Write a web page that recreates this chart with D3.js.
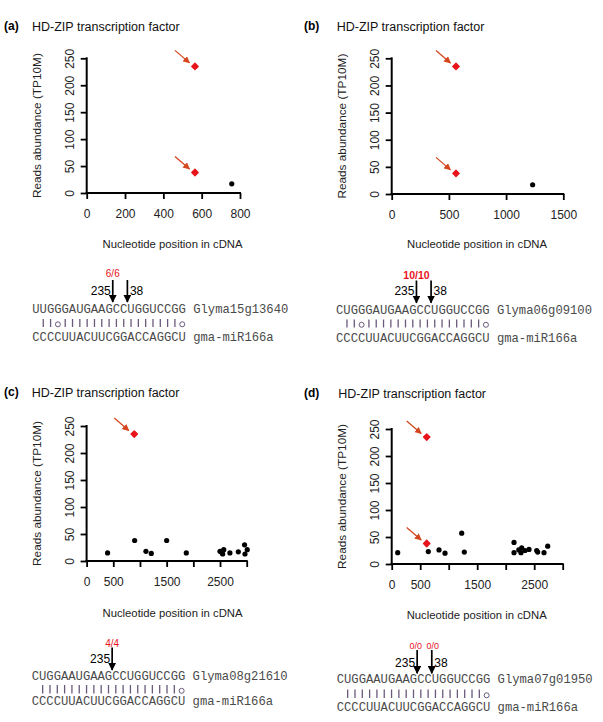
<!DOCTYPE html>
<html><head><meta charset="utf-8">
<script src="https://cdn.jsdelivr.net/npm/d3@7"></script>
<style>body{margin:0;background:#fff}svg{display:block}</style>
</head><body><svg id="chart" width="603" height="722"></svg>
<script>
// ---------------- DATA ----------------
const panelLabels = ["(a)", "(b)", "(c)", "(d)"];
const panelTitles = ["HD-ZIP transcription factor", "HD-ZIP transcription factor", "HD-ZIP transcription factor", "HD-ZIP transcription factor"];
const yLabel = "Reads abundance (TP10M)";
const xLabel = "Nucleotide position in cDNA";
const yMax = 250;
const yTicks = [0, 50, 100, 150, 200, 250];
const xMaxes = [800, 1500, 3000, 3000];

const xTicksA = [0, 200, 400, 600, 800];
const xTickLabelsA = [0, 200, 400, 600, 800];
const xTicksB = [0, 500, 1000, 1500];
const xTickLabelsB = [0, 500, 1000, 1500];
const xTicksC = [0, 500, 1000, 1500, 2000, 2500, 3000];
const xTickLabelsC = [0, 500, 1500, 2500];
const xTicksD = [0, 500, 1000, 1500, 2000, 2500, 3000];
const xTickLabelsD = [0, 500, 1500, 2500];

// target (red, arrowed) tags
const targetPosA = [565, 565];   const targetAbundA = [235, 38];
const targetPosB = [562, 562];   const targetAbundB = [235, 38];
const targetPosC = [893];        const targetAbundC = [235];
const targetPosD = [614, 614];   const targetAbundD = [235, 38];

// other tags (black)
const otherPosA = [757];   const otherAbundA = [17];
const otherPosB = [1232];  const otherAbundB = [17];
const otherPosC = [393, 900, 1112, 1212, 1500, 1868, 2500, 2540, 2570, 2550, 2685, 2843, 2960, 2968, 3010];
const otherAbundC = [15, 38, 18, 14, 38, 15, 18, 15, 21, 13, 15, 17, 30, 13, 21];
const otherPosD = [105, 642, 830, 935, 1228, 1274, 2146, 2146, 2230, 2281, 2268, 2339, 2409, 2544, 2561, 2672, 2737];
const otherAbundD = [21, 23, 26, 20, 57, 22, 40, 21, 26, 30, 21, 25, 27, 25, 22, 21, 33];

// alignments
const targetSeqs = ["UUGGGAUGAAGCCUGGUCCGG", "CUGGGAUGAAGCCUGGUCCGG", "CUGGAAUGAAGCCUGGUCCGG", "CUGGAAUGAAGCCUGGUCCGG"];
const geneIds = ["Glyma15g13640", "Glyma06g09100", "Glyma08g21610", "Glyma07g01950"];
const pairings = [" ||o||||||||||||||||o", " ||o||||||||||||||||o", " |||||||||||||||||||o", " |||||||||||||||||||o"];
const mirnaSeq = "CCCCUUACUUCGGACCAGGCU";
const mirnaName = "gma-miR166a";
// cleavage sites: boundary index in target sequence, abundance label, degradome ratio
const cleaveSites = [[11, 13], [11, 13], [11], [11, 13]];
const cleaveLabels = [["235", "38"], ["235", "38"], ["235"], ["235", "38"]];
const cleaveRatios = [["6/6", ""], ["10/10", ""], ["4/4"], ["0/0", "0/0"]];

// ---------------- LAYOUT ----------------
const layouts = [
  {x0:86.7, x1:240, y0:193, y1:58.3, labelX:4, titleX:32, titleY:31, xtX:172.5, xtY:248,
   seqX:32.3, seqY:313, pairTop:319, pairBot:327, mirY:341, aTop:280, aTip:302, numY:295, ratioY:277, ratioBold:false, ratioSize:10},
  {x0:391.7, x1:563.3, y0:194, y1:58.3, labelX:304, titleX:336.7, titleY:31, xtX:477, xtY:248,
   seqX:336, seqY:314, pairTop:319.5, pairBot:327.5, mirY:341.5, aTop:280.5, aTip:302.7, numY:295, ratioY:279, ratioBold:true, ratioSize:10.5},
  {x0:86.6, x1:246.7, y0:561, y1:426, labelX:4, titleX:31.7, titleY:397, xtX:172.5, xtY:617,
   seqX:31.7, seqY:680, pairTop:685, pairBot:693.5, mirY:705, aTop:647.5, aTip:670, numY:662.5, ratioY:646.5, ratioBold:false, ratioSize:10},
  {x0:391.7, x1:562.7, y0:564, y1:429, labelX:304, titleX:338.3, titleY:398, xtX:476.7, xtY:618.5,
   seqX:336.7, seqY:683.3, pairTop:689.5, pairBot:698, mirY:711.3, aTop:650, aTip:673.3, numY:666.5, ratioY:649, ratioBold:false, ratioSize:9}
];

const panels = [
  {xTicks:xTicksA, xTickLabels:xTickLabelsA, tPos:targetPosA, tAb:targetAbundA, oPos:otherPosA, oAb:otherAbundA},
  {xTicks:xTicksB, xTickLabels:xTickLabelsB, tPos:targetPosB, tAb:targetAbundB, oPos:otherPosB, oAb:otherAbundB},
  {xTicks:xTicksC, xTickLabels:xTickLabelsC, tPos:targetPosC, tAb:targetAbundC, oPos:otherPosC, oAb:otherAbundC},
  {xTicks:xTicksD, xTickLabels:xTickLabelsD, tPos:targetPosD, tAb:targetAbundD, oPos:otherPosD, oAb:otherAbundD}
];

const SANS = "'Liberation Sans', Arial, sans-serif";
const MONO = "'Liberation Mono', 'Courier New', monospace";
const RED = "#e8141c", ORANGE = "#d4471e", SEQCOL = "#4a4a4a", PAIRCOL = "#6a5a7c";

const svg = d3.select("#chart");
svg.append("rect").attr("width", 603).attr("height", 722).attr("fill", "#fff");

const defs = svg.append("defs");
defs.append("marker").attr("id", "ahOrange").attr("viewBox", "0 0 10 10")
  .attr("refX", 9).attr("refY", 5).attr("markerWidth", 7).attr("markerHeight", 7)
  .attr("markerUnits", "userSpaceOnUse").attr("orient", "auto")
  .append("path").attr("d", "M0,0L10,5L0,10Z").attr("fill", ORANGE);
defs.append("marker").attr("id", "ahBlack").attr("viewBox", "0 0 10 10")
  .attr("refX", 9).attr("refY", 5).attr("markerWidth", 8).attr("markerHeight", 8)
  .attr("markerUnits", "userSpaceOnUse").attr("orient", "auto")
  .append("path").attr("d", "M0,0L10,5L0,10Z").attr("fill", "#000");

// measure monospace char width
const probe = svg.append("text").attr("font-family", MONO).attr("font-size", 12.2).text(mirnaSeq);
const charW = probe.node().getComputedTextLength() / mirnaSeq.length;
probe.remove();

panels.forEach((p, i) => {
  const L = layouts[i];
  const g = svg.append("g");
  const x = d3.scaleLinear().domain([0, xMaxes[i]]).range([L.x0, L.x1]);
  const y = d3.scaleLinear().domain([0, yMax]).range([L.y0, L.y1]);

  g.append("text").attr("x", L.labelX).attr("y", L.titleY - 1).attr("font-family", SANS)
    .attr("font-weight", "bold").attr("font-size", 12).text(panelLabels[i]);
  g.append("text").attr("x", L.titleX).attr("y", L.titleY).attr("font-family", SANS)
    .attr("font-size", 12.5).attr("fill", "#111").text(panelTitles[i]);

  // x axis
  const xa = g.append("g").attr("transform", `translate(0,${L.y0})`)
    .call(d3.axisBottom(x).tickValues(p.xTicks).tickSize(6).tickSizeOuter(0)
      .tickFormat(d => p.xTickLabels.includes(d) ? d : ""));
  xa.select(".domain").attr("stroke-width", 2).attr("d", `M${L.x0 - 1},0H${L.x1 + 1}`);
  xa.selectAll(".tick line").attr("stroke-width", 1.8);
  xa.selectAll(".tick text").attr("y", 25).attr("dy", 0).attr("font-family", SANS)
    .attr("font-size", 12).attr("fill", "#222");

  // y axis
  const ya = g.append("g").attr("transform", `translate(${L.x0},0)`)
    .call(d3.axisLeft(y).tickValues(yTicks).tickSize(6).tickSizeOuter(0));
  ya.select(".domain").attr("stroke-width", 2).attr("d", `M0,${L.y0 + 1}V${L.y1 - 1}`);
  ya.selectAll(".tick line").attr("stroke-width", 1.8);
  ya.selectAll(".tick text").attr("transform", "rotate(-90)").attr("x", 0).attr("y", -12.5)
    .attr("dy", 0).attr("text-anchor", "middle").attr("font-family", SANS)
    .attr("font-size", 12).attr("fill", "#222");

  g.append("text").attr("transform", `translate(${L.x0 - 46},${(L.y0 + L.y1) / 2}) rotate(-90)`)
    .attr("text-anchor", "middle").attr("font-family", SANS).attr("font-size", 11.8)
    .attr("fill", "#222").text(yLabel);
  g.append("text").attr("x", L.xtX).attr("y", L.xtY).attr("text-anchor", "middle")
    .attr("font-family", SANS).attr("font-size", 11.3).attr("fill", "#222").text(xLabel);

  // black points
  g.selectAll("circle.o").data(p.oPos.map((v, k) => [v, p.oAb[k]])).join("circle")
    .attr("class", "o").attr("cx", d => x(d[0])).attr("cy", d => y(d[1])).attr("r", 2.6).attr("fill", "#000");
  // red target points + arrows
  const tdat = p.tPos.map((v, k) => [v, p.tAb[k]]);
  g.selectAll("line.arr").data(tdat).join("line").attr("class", "arr")
    .attr("x1", d => x(d[0]) - 20).attr("y1", d => y(d[1]) - 16)
    .attr("x2", d => x(d[0]) - 5.5).attr("y2", d => y(d[1]) - 3.5)
    .attr("stroke", ORANGE).attr("stroke-width", 1.3).attr("marker-end", "url(#ahOrange)");
  g.selectAll("path.t").data(tdat).join("path").attr("class", "t")
    .attr("d", d3.symbol(d3.symbolSquare, 20))
    .attr("transform", d => `translate(${x(d[0])},${y(d[1])}) rotate(45)`)
    .attr("fill", RED).attr("stroke", RED).attr("stroke-width", 1.4).attr("stroke-linejoin", "round");

  // alignment
  const cx = d3.scaleLinear().domain([0, 1]).range([L.seqX, L.seqX + charW]);
  g.append("text").attr("x", L.seqX).attr("y", L.seqY).attr("font-family", MONO).attr("font-size", 12.2)
    .attr("fill", SEQCOL).style("white-space", "pre").text(targetSeqs[i] + " " + geneIds[i]);
  g.append("text").attr("x", L.seqX).attr("y", L.mirY).attr("font-family", MONO).attr("font-size", 12.2)
    .attr("fill", SEQCOL).style("white-space", "pre").text(mirnaSeq + " " + mirnaName);
  const pairs = pairings[i].split("").map((c, k) => ({c, k}));
  g.selectAll("line.pr").data(pairs.filter(d => d.c === "|")).join("line").attr("class", "pr")
    .attr("x1", d => cx(d.k + 0.5)).attr("x2", d => cx(d.k + 0.5))
    .attr("y1", L.pairTop).attr("y2", L.pairBot).attr("stroke", PAIRCOL).attr("stroke-width", 1.3);
  g.selectAll("circle.pr").data(pairs.filter(d => d.c === "o")).join("circle").attr("class", "pr")
    .attr("cx", d => cx(d.k + 0.5)).attr("cy", L.pairBot - 2.7).attr("r", 2.5)
    .attr("fill", "none").attr("stroke", PAIRCOL).attr("stroke-width", 1);

  cleaveSites[i].forEach((s, k) => {
    const ax = cx(s);
    g.append("line").attr("x1", ax).attr("x2", ax).attr("y1", L.aTop).attr("y2", L.aTip)
      .attr("stroke", "#000").attr("stroke-width", 1.7).attr("marker-end", "url(#ahBlack)");
    const lab = cleaveLabels[i][k];
    g.append("text").attr("x", k === 0 ? ax - 2 : ax + 2.5).attr("y", L.numY)
      .attr("text-anchor", k === 0 ? "end" : "start").attr("font-family", SANS)
      .attr("font-size", 12).attr("fill", "#000").text(lab);
    const r = cleaveRatios[i][k];
    if (r) {
      const shift = cleaveRatios[i].filter(Boolean).length > 1 ? (k === 0 ? -1.5 : 1) : 0;
      g.append("text").attr("x", ax + shift).attr("y", L.ratioY).attr("text-anchor", "middle")
        .attr("font-family", SANS).attr("font-size", L.ratioSize)
        .attr("font-weight", L.ratioBold ? "bold" : "normal").attr("fill", RED).text(r);
    }
  });
});
</script></body></html>
